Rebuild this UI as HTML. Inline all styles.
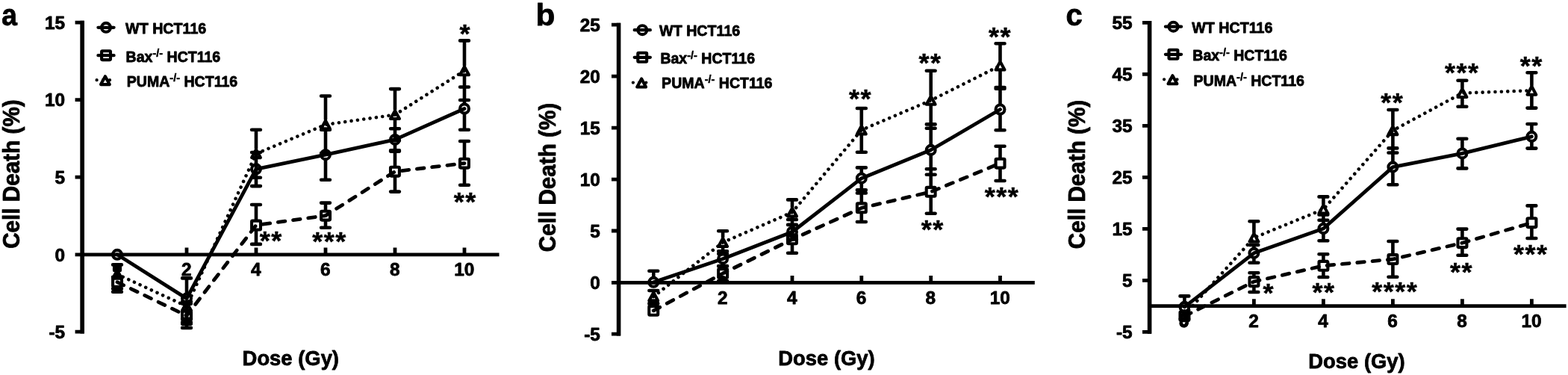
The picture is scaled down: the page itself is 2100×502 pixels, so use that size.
<!DOCTYPE html>
<html lang="en">
<head>
<meta charset="utf-8">
<title>Cell death versus radiation dose in WT, Bax-/- and PUMA-/- HCT116 cells</title>
<style>
html,body{margin:0;padding:0;background:#fff;}
body{width:2100px;height:502px;overflow:hidden;font-family:"Liberation Sans",Arial,sans-serif;}
svg{display:block;}
text{fill:#000;}
</style>
</head>
<body>
<svg width="2100" height="502" viewBox="0 0 2100 502" role="img" aria-label="Three line charts of cell death (%) versus dose (Gy)">
<rect width="2100" height="502" fill="#fff"/>
<g id="panel-a">
<path d="M110.2 27.8V446.6M100.6 30.2H110.2M100.6 133.7H110.2M100.6 237.2H110.2M100.6 340.8H110.2M100.6 444.2H110.2M100.6 340.8H668.5M250.0 340.8V331.4M343.0 340.8V331.4M436.0 340.8V331.4M529.0 340.8V331.4M622.0 340.8V331.4" fill="none" stroke="#000" stroke-width="4.8" stroke-linecap="butt"/>
<path d="M110.2 27.8V446.6" fill="none" stroke="#000" stroke-width="5.6" stroke-linecap="butt"/>
<g font-family="Liberation Sans, Arial, Helvetica, sans-serif" font-weight="700" stroke="#000" stroke-width="0.8" stroke-linejoin="round" font-size="24.4" text-anchor="end">
<text x="87.2" y="38.9">15</text>
<text x="87.2" y="142.4">10</text>
<text x="87.2" y="245.9">5</text>
<text x="87.2" y="349.5">0</text>
<text x="87.2" y="452.9">-5</text>
</g>
<g font-family="Liberation Sans, Arial, Helvetica, sans-serif" font-weight="700" stroke="#000" stroke-width="0.8" stroke-linejoin="round" font-size="24.4" text-anchor="middle">
<text x="249.7" y="369.4">2</text>
<text x="342.7" y="369.4">4</text>
<text x="435.7" y="369.4">6</text>
<text x="528.7" y="369.4">8</text>
<text x="621.7" y="369.4">10</text>
</g>
<path d="M250.0 392.6V372.4M244.1 372.4H255.9M250.0 406.6V426.8M244.1 426.8H255.9M343.0 219.3V204.0M337.1 204.0H348.9M343.0 233.3V249.1M337.1 249.1H348.9M436.0 200.2V173.7M430.1 173.7H441.9M436.0 214.2V240.7M430.1 240.7H441.9M529.0 179.9V172.3M523.1 172.3H534.9M529.0 193.9V201.3M523.1 201.3H534.9M622.0 138.5V116.5M616.1 116.5H627.9M622.0 152.5V173.8M616.1 173.8H627.9M157.0 360.2V354.4M151.1 354.4H162.9M151.1 371.2H162.9M244.1 404.0H255.9M250.0 417.0V431.5M244.1 431.5H255.9M343.0 198.7V173.7M337.1 173.7H348.9M343.0 212.7V237.7M337.1 237.7H348.9M436.0 159.8V128.5M430.1 128.5H441.9M436.0 173.8V205.1M430.1 205.1H441.9M529.0 146.6V119.1M523.1 119.1H534.9M529.0 160.6V188.1M523.1 188.1H534.9M622.0 87.7V54.4M616.1 54.4H627.9M622.0 101.7V134.0M616.1 134.0H627.9M151.1 370.7H162.9M157.0 384.7V390.7M151.1 390.7H162.9M250.0 415.6V406.6M244.1 406.6H255.9M250.0 429.6V438.9M244.1 438.9H255.9M343.0 294.5V274.0M337.1 274.0H348.9M343.0 308.5V326.9M337.1 326.9H348.9M436.0 281.6V271.6M430.1 271.6H441.9M436.0 295.6V304.8M430.1 304.8H441.9M529.0 222.6V202.6M523.1 202.6H534.9M529.0 236.6V256.6M523.1 256.6H534.9M622.0 211.6V189.0M616.1 189.0H627.9M622.0 225.6V247.8M616.1 247.8H627.9M151.1 386.6H162.9M244.1 433.6H255.9M153.2 357.5V362M160.8 357.5V362" fill="none" stroke="#000" stroke-width="4.6" stroke-linecap="round"/>
<polyline points="157.0,367.2 250.0,410.0 343.0,205.7 436.0,166.8 529.0,153.6 622.0,94.7" fill="none" stroke="#000" stroke-width="4.6" stroke-linecap="round" stroke-linejoin="round" stroke-dasharray="0.01 8.4"/>
<polyline points="157.0,377.7 250.0,422.6 343.0,301.5 436.0,288.6 529.0,229.6 622.0,218.6" fill="none" stroke="#000" stroke-width="4.8" stroke-linecap="round" stroke-linejoin="round" stroke-dasharray="9.6 10.8"/>
<polyline points="157.0,340.8 250.0,399.6 343.0,226.3 436.0,207.2 529.0,186.9 622.0,145.5" fill="none" stroke="#000" stroke-width="4.8" stroke-linecap="round" stroke-linejoin="round"/>
<path d="M157.0 361.8L162.9 372.6H151.1Z" fill="none" stroke="#000" stroke-width="4.1" stroke-linejoin="round"/>
<path d="M250.0 404.6L255.9 415.4H244.1Z" fill="none" stroke="#000" stroke-width="4.1" stroke-linejoin="round"/>
<path d="M343.0 200.2L348.9 211.1H337.1Z" fill="none" stroke="#000" stroke-width="4.1" stroke-linejoin="round"/>
<path d="M436.0 161.4L441.9 172.2H430.1Z" fill="none" stroke="#000" stroke-width="4.1" stroke-linejoin="round"/>
<path d="M529.0 148.2L535.0 159.0H523.0Z" fill="none" stroke="#000" stroke-width="4.1" stroke-linejoin="round"/>
<path d="M622.0 89.2L628.0 100.2H616.0Z" fill="none" stroke="#000" stroke-width="4.1" stroke-linejoin="round"/>
<rect x="151.1" y="371.8" width="11.9" height="11.9" rx="1" fill="none" stroke="#000" stroke-width="4.1" stroke-linejoin="round"/>
<rect x="244.1" y="416.7" width="11.9" height="11.9" rx="1" fill="none" stroke="#000" stroke-width="4.1" stroke-linejoin="round"/>
<rect x="337.1" y="295.6" width="11.9" height="11.9" rx="1" fill="none" stroke="#000" stroke-width="4.1" stroke-linejoin="round"/>
<rect x="430.1" y="282.7" width="11.9" height="11.9" rx="1" fill="none" stroke="#000" stroke-width="4.1" stroke-linejoin="round"/>
<rect x="523.0" y="223.7" width="11.9" height="11.9" rx="1" fill="none" stroke="#000" stroke-width="4.1" stroke-linejoin="round"/>
<rect x="616.0" y="212.7" width="11.9" height="11.9" rx="1" fill="none" stroke="#000" stroke-width="4.1" stroke-linejoin="round"/>
<circle cx="157.0" cy="340.8" r="5.95" fill="none" stroke="#000" stroke-width="4.1"/>
<circle cx="250.0" cy="399.6" r="5.95" fill="none" stroke="#000" stroke-width="4.1"/>
<circle cx="343.0" cy="226.3" r="5.95" fill="none" stroke="#000" stroke-width="4.1"/>
<circle cx="436.0" cy="207.2" r="5.95" fill="none" stroke="#000" stroke-width="4.1"/>
<circle cx="529.0" cy="186.9" r="5.95" fill="none" stroke="#000" stroke-width="4.1"/>
<circle cx="622.0" cy="145.5" r="5.95" fill="none" stroke="#000" stroke-width="4.1"/>
<g font-family="Liberation Sans, Arial, Helvetica, sans-serif" font-weight="700" stroke="#000" stroke-width="0.5" font-size="36.0" letter-spacing="1.49">
<text transform="translate(347.8 333.5) scale(1 0.95)">**</text>
<text transform="translate(418.3 334.5) scale(1 0.95)">***</text>
<text transform="translate(615.6 56.5) scale(1 0.95)">*</text>
<text transform="translate(607.7 281.5) scale(1 0.95)">**</text>
</g>
<path d="M131.4 36.8H152.6M131.4 74.2H152.6" stroke="#000" stroke-width="4.2" stroke-linecap="round" fill="none"/>
<path d="M129.6 107.2h0M138.0 107.2h0M147.0 107.2h0" stroke="#000" stroke-width="4.3" stroke-linecap="round" fill="none"/>
<circle cx="142.0" cy="36.8" r="5.95" fill="none" stroke="#000" stroke-width="4.1"/>
<rect x="136.1" y="68.2" width="11.9" height="11.9" rx="1" fill="none" stroke="#000" stroke-width="4.1" stroke-linejoin="round"/>
<path d="M140.9 102.2L146.8 113.1H135.0Z" fill="none" stroke="#000" stroke-width="4.1" stroke-linejoin="round"/>
<g font-family="Liberation Sans, Arial, Helvetica, sans-serif" font-weight="700" stroke="#000" stroke-width="0.8" stroke-linejoin="round" font-size="19.4">
<text x="168.1" y="45.2" textLength="108.2" lengthAdjust="spacingAndGlyphs">WT HCT116</text>
<text x="168.6" y="82.8" textLength="126.6" lengthAdjust="spacingAndGlyphs">Bax<tspan font-size="14.4" stroke-width="0.5" dy="-6.6">-/-</tspan><tspan dy="6.6"> HCT116</tspan></text>
<text x="169.8" y="115.7" textLength="148.4" lengthAdjust="spacingAndGlyphs">PUMA<tspan font-size="14.4" stroke-width="0.5" dy="-6.6">-/-</tspan><tspan dy="6.6"> HCT116</tspan></text>
</g>
<text font-family="Liberation Sans, Arial, Helvetica, sans-serif" font-weight="700" stroke="#000" stroke-width="0.8" stroke-linejoin="round" font-size="30.5" text-anchor="middle" transform="translate(25.6 233.1) rotate(-90)" textLength="199.5" lengthAdjust="spacingAndGlyphs">Cell Death (%)</text>
<text font-family="Liberation Sans, Arial, Helvetica, sans-serif" font-weight="700" stroke="#000" stroke-width="0.8" stroke-linejoin="round" font-size="28.2" text-anchor="middle" x="389.3" y="489.4" textLength="129.4" lengthAdjust="spacingAndGlyphs">Dose (Gy)</text>
<text font-family="Liberation Sans, Arial, Helvetica, sans-serif" font-weight="700" stroke="#000" stroke-width="0.8" stroke-linejoin="round" font-size="40" transform="translate(2.2 33.8) scale(0.93 1)">a</text>
</g>
<g id="panel-b">
<path d="M828.6 30.8V449.6M819.0 33.2H828.6M819.0 102.2H828.6M819.0 171.2H828.6M819.0 240.1H828.6M819.0 309.0H828.6M819.0 378.3H828.6M819.0 447.2H828.6M819.0 378.3H1385.8M968.1 378.3V368.9M1061.0 378.3V368.9M1153.8 378.3V368.9M1246.7 378.3V368.9M1339.5 378.3V368.9" fill="none" stroke="#000" stroke-width="4.8" stroke-linecap="butt"/>
<path d="M828.6 30.8V449.6" fill="none" stroke="#000" stroke-width="5.6" stroke-linecap="butt"/>
<g font-family="Liberation Sans, Arial, Helvetica, sans-serif" font-weight="700" stroke="#000" stroke-width="0.8" stroke-linejoin="round" font-size="24.4" text-anchor="end">
<text x="803.9" y="41.9">25</text>
<text x="803.9" y="110.9">20</text>
<text x="803.9" y="179.9">15</text>
<text x="803.9" y="248.8">10</text>
<text x="803.9" y="317.7">5</text>
<text x="803.9" y="387.0">0</text>
<text x="803.9" y="455.9">-5</text>
</g>
<g font-family="Liberation Sans, Arial, Helvetica, sans-serif" font-weight="700" stroke="#000" stroke-width="0.8" stroke-linejoin="round" font-size="24.4" text-anchor="middle">
<text x="967.9" y="406.9">2</text>
<text x="1060.7" y="406.9">4</text>
<text x="1153.5" y="406.9">6</text>
<text x="1246.4" y="406.9">8</text>
<text x="1339.2" y="406.9">10</text>
</g>
<path d="M875.3 370.8V362.8M869.4 362.8H881.2M968.1 339.4V336.4M962.2 336.4H974.0M968.1 353.4V356.4M962.2 356.4H974.0M1061.0 303.5V294.0M1055.1 294.0H1066.9M1061.0 317.5V320.5M1055.1 320.5H1066.9M1153.8 231.7V224.4M1147.9 224.4H1159.8M1153.8 245.7V254.2M1147.9 254.2H1159.8M1246.7 193.8V166.4M1240.8 166.4H1252.6M1246.7 207.8V233.8M1240.8 233.8H1252.6M1339.5 139.5V118.8M1333.6 118.8H1345.5M1339.5 153.5V174.2M1333.6 174.2H1345.5M875.3 390.0V389.0M869.4 389.0H881.2M875.3 404.0V406.0M869.4 406.0H881.2M968.1 317.5V309.2M962.2 309.2H974.0M968.1 331.5V339.8M962.2 339.8H974.0M1061.0 277.2V267.4M1055.1 267.4H1066.9M1061.0 291.2V301.0M1055.1 301.0H1066.9M1153.8 167.0V145.0M1147.9 145.0H1159.8M1153.8 181.0V203.7M1147.9 203.7H1159.8M1246.7 127.4V94.7M1240.8 94.7H1252.6M1246.7 141.4V171.7M1240.8 171.7H1252.6M1339.5 80.9V58.2M1333.6 58.2H1345.5M1339.5 94.9V117.1M1333.6 117.1H1345.5M875.3 408.8V406.8M869.4 406.8H881.2M968.1 359.0V356.0M962.2 356.0H974.0M968.1 373.0V376.0M962.2 376.0H974.0M1061.0 313.4V300.9M1055.1 300.9H1066.9M1061.0 327.4V338.8M1055.1 338.8H1066.9M1153.8 271.4V258.4M1147.9 258.4H1159.8M1153.8 285.4V297.0M1147.9 297.0H1159.8M1246.7 249.8V226.2M1240.8 226.2H1252.6M1246.7 263.8V285.8M1240.8 285.8H1252.6M1339.5 211.6V195.8M1333.6 195.8H1345.5M1339.5 225.6V242.0M1333.6 242.0H1345.5" fill="none" stroke="#000" stroke-width="4.6" stroke-linecap="round"/>
<polyline points="875.3,397.0 968.1,324.5 1061.0,284.2 1153.8,174.0 1246.7,134.4 1339.5,87.9" fill="none" stroke="#000" stroke-width="4.6" stroke-linecap="round" stroke-linejoin="round" stroke-dasharray="0.01 8.4"/>
<polyline points="875.3,415.8 968.1,366.0 1061.0,320.4 1153.8,278.4 1246.7,256.8 1339.5,218.6" fill="none" stroke="#000" stroke-width="4.8" stroke-linecap="round" stroke-linejoin="round" stroke-dasharray="9.6 10.8"/>
<polyline points="875.3,377.8 968.1,346.4 1061.0,310.5 1153.8,238.7 1246.7,200.8 1339.5,146.5" fill="none" stroke="#000" stroke-width="4.8" stroke-linecap="round" stroke-linejoin="round"/>
<path d="M875.3 391.6L881.2 402.4H869.3Z" fill="none" stroke="#000" stroke-width="4.1" stroke-linejoin="round"/>
<path d="M968.1 319.1L974.1 329.9H962.2Z" fill="none" stroke="#000" stroke-width="4.1" stroke-linejoin="round"/>
<path d="M1061.0 278.8L1067.0 289.6H1055.0Z" fill="none" stroke="#000" stroke-width="4.1" stroke-linejoin="round"/>
<path d="M1153.8 168.6L1159.8 179.4H1147.9Z" fill="none" stroke="#000" stroke-width="4.1" stroke-linejoin="round"/>
<path d="M1246.7 129.0L1252.6 139.8H1240.7Z" fill="none" stroke="#000" stroke-width="4.1" stroke-linejoin="round"/>
<path d="M1339.5 82.5L1345.5 93.4H1333.6Z" fill="none" stroke="#000" stroke-width="4.1" stroke-linejoin="round"/>
<rect x="869.3" y="409.9" width="11.9" height="11.9" rx="1" fill="none" stroke="#000" stroke-width="4.1" stroke-linejoin="round"/>
<rect x="962.2" y="360.1" width="11.9" height="11.9" rx="1" fill="none" stroke="#000" stroke-width="4.1" stroke-linejoin="round"/>
<rect x="1055.0" y="314.4" width="11.9" height="11.9" rx="1" fill="none" stroke="#000" stroke-width="4.1" stroke-linejoin="round"/>
<rect x="1147.9" y="272.4" width="11.9" height="11.9" rx="1" fill="none" stroke="#000" stroke-width="4.1" stroke-linejoin="round"/>
<rect x="1240.7" y="250.9" width="11.9" height="11.9" rx="1" fill="none" stroke="#000" stroke-width="4.1" stroke-linejoin="round"/>
<rect x="1333.6" y="212.7" width="11.9" height="11.9" rx="1" fill="none" stroke="#000" stroke-width="4.1" stroke-linejoin="round"/>
<circle cx="875.3" cy="377.8" r="5.95" fill="none" stroke="#000" stroke-width="4.1"/>
<circle cx="968.1" cy="346.4" r="5.95" fill="none" stroke="#000" stroke-width="4.1"/>
<circle cx="1061.0" cy="310.5" r="5.95" fill="none" stroke="#000" stroke-width="4.1"/>
<circle cx="1153.8" cy="238.7" r="5.95" fill="none" stroke="#000" stroke-width="4.1"/>
<circle cx="1246.7" cy="200.8" r="5.95" fill="none" stroke="#000" stroke-width="4.1"/>
<circle cx="1339.5" cy="146.5" r="5.95" fill="none" stroke="#000" stroke-width="4.1"/>
<g font-family="Liberation Sans, Arial, Helvetica, sans-serif" font-weight="700" stroke="#000" stroke-width="0.5" font-size="36.0" letter-spacing="1.49">
<text transform="translate(1137.1 144.3) scale(1 0.95)">**</text>
<text transform="translate(1230.4 96.0) scale(1 0.95)">**</text>
<text transform="translate(1324.0 61.2) scale(1 0.95)">**</text>
<text transform="translate(1233.7 318.9) scale(1 0.95)">**</text>
<text transform="translate(1318.8 274.9) scale(1 0.95)">***</text>
</g>
<path d="M849.7 40.2H870.9M849.7 76.8H870.9" stroke="#000" stroke-width="4.2" stroke-linecap="round" fill="none"/>
<path d="M847.9 110.6h0M856.3 110.6h0M865.3 110.6h0" stroke="#000" stroke-width="4.3" stroke-linecap="round" fill="none"/>
<circle cx="860.3" cy="40.2" r="5.95" fill="none" stroke="#000" stroke-width="4.1"/>
<rect x="854.3" y="70.8" width="11.9" height="11.9" rx="1" fill="none" stroke="#000" stroke-width="4.1" stroke-linejoin="round"/>
<path d="M859.2 105.5L865.1 116.5H853.2Z" fill="none" stroke="#000" stroke-width="4.1" stroke-linejoin="round"/>
<g font-family="Liberation Sans, Arial, Helvetica, sans-serif" font-weight="700" stroke="#000" stroke-width="0.8" stroke-linejoin="round" font-size="19.4">
<text x="883.1" y="47.7" textLength="108.2" lengthAdjust="spacingAndGlyphs">WT HCT116</text>
<text x="884.4" y="85.2" textLength="126.6" lengthAdjust="spacingAndGlyphs">Bax<tspan font-size="14.4" stroke-width="0.5" dy="-6.6">-/-</tspan><tspan dy="6.6"> HCT116</tspan></text>
<text x="886.1" y="117.7" textLength="148.4" lengthAdjust="spacingAndGlyphs">PUMA<tspan font-size="14.4" stroke-width="0.5" dy="-6.6">-/-</tspan><tspan dy="6.6"> HCT116</tspan></text>
</g>
<text font-family="Liberation Sans, Arial, Helvetica, sans-serif" font-weight="700" stroke="#000" stroke-width="0.8" stroke-linejoin="round" font-size="30.5" text-anchor="middle" transform="translate(743.5 237.5) rotate(-90)" textLength="199.5" lengthAdjust="spacingAndGlyphs">Cell Death (%)</text>
<text font-family="Liberation Sans, Arial, Helvetica, sans-serif" font-weight="700" stroke="#000" stroke-width="0.8" stroke-linejoin="round" font-size="28.2" text-anchor="middle" x="1107.0" y="489.4" textLength="129.4" lengthAdjust="spacingAndGlyphs">Dose (Gy)</text>
<text font-family="Liberation Sans, Arial, Helvetica, sans-serif" font-weight="700" stroke="#000" stroke-width="0.8" stroke-linejoin="round" font-size="40" transform="translate(717.6 34.0) scale(1.06 1)">b</text>
</g>
<g id="panel-c">
<path d="M1539.6 28.0V446.7M1530.0 30.4H1539.6M1530.0 99.3H1539.6M1530.0 168.3H1539.6M1530.0 237.3H1539.6M1530.0 306.3H1539.6M1530.0 375.4H1539.6M1530.0 444.3H1539.6M1539.6 409.7H2097.6M1679.4 409.7V400.3M1772.4 409.7V400.3M1865.4 409.7V400.3M1958.4 409.7V400.3M2051.4 409.7V400.3" fill="none" stroke="#000" stroke-width="4.8" stroke-linecap="butt"/>
<path d="M1539.6 28.0V446.7" fill="none" stroke="#000" stroke-width="5.6" stroke-linecap="butt"/>
<g font-family="Liberation Sans, Arial, Helvetica, sans-serif" font-weight="700" stroke="#000" stroke-width="0.8" stroke-linejoin="round" font-size="24.4" text-anchor="end">
<text x="1516.7" y="39.1">55</text>
<text x="1516.7" y="108.0">45</text>
<text x="1516.7" y="177.0">35</text>
<text x="1516.7" y="246.0">25</text>
<text x="1516.7" y="315.0">15</text>
<text x="1516.7" y="384.1">5</text>
<text x="1516.7" y="453.0">-5</text>
</g>
<g font-family="Liberation Sans, Arial, Helvetica, sans-serif" font-weight="700" stroke="#000" stroke-width="0.8" stroke-linejoin="round" font-size="24.4" text-anchor="middle">
<text x="1586.1" y="438.3">0</text>
<text x="1679.1" y="438.3">2</text>
<text x="1772.1" y="438.3">4</text>
<text x="1865.1" y="438.3">6</text>
<text x="1958.1" y="438.3">8</text>
<text x="2051.1" y="438.3">10</text>
</g>
<path d="M1586.4 403.8V396.4M1580.5 396.4H1592.3M1679.4 331.8V328.0M1673.5 328.0H1685.3M1679.4 345.8V351.8M1673.5 351.8H1685.3M1772.4 299.0V287.5M1766.5 287.5H1778.3M1772.4 313.0V322.2M1766.5 322.2H1778.3M1865.4 216.6V198.4M1859.5 198.4H1871.3M1865.4 230.6V247.2M1859.5 247.2H1871.3M1958.4 198.4V185.8M1952.5 185.8H1964.3M1958.4 212.4V225.4M1952.5 225.4H1964.3M2051.4 175.8V166.0M2045.5 166.0H2057.3M2051.4 189.8V198.6M2045.5 198.6H2057.3M1679.4 311.2V296.2M1673.5 296.2H1685.3M1772.4 273.2V263.4M1766.5 263.4H1778.3M1772.4 287.2V294.8M1766.5 294.8H1778.3M1865.4 167.7V147.0M1859.5 147.0H1871.3M1865.4 181.7V204.5M1859.5 204.5H1871.3M1958.4 117.6V107.8M1952.5 107.8H1964.3M1958.4 131.6V142.7M1952.5 142.7H1964.3M2051.4 114.2V97.3M2045.5 97.3H2057.3M2051.4 128.2V144.6M2045.5 144.6H2057.3M1679.4 370.0V365.2M1673.5 365.2H1685.3M1679.4 384.0V391.0M1673.5 391.0H1685.3M1772.4 348.8V340.2M1766.5 340.2H1778.3M1772.4 362.8V371.0M1766.5 371.0H1778.3M1865.4 340.0V323.0M1859.5 323.0H1871.3M1865.4 354.0V370.8M1859.5 370.8H1871.3M1958.4 318.2V306.6M1952.5 306.6H1964.3M1958.4 332.2V341.8M1952.5 341.8H1964.3M2051.4 291.2V275.4M2045.5 275.4H2057.3M2051.4 305.2V319.0M2045.5 319.0H2057.3M1581.6 432.6a3.9 3.7 0 0 0 7.8 0" fill="none" stroke="#000" stroke-width="4.6" stroke-linecap="round"/>
<polyline points="1586.4,421.5 1679.4,318.2 1772.4,280.2 1865.4,174.7 1958.4,124.6 2051.4,121.2" fill="none" stroke="#000" stroke-width="4.6" stroke-linecap="round" stroke-linejoin="round" stroke-dasharray="0.01 8.4"/>
<polyline points="1586.4,423.2 1679.4,377.0 1772.4,355.8 1865.4,347.0 1958.4,325.2 2051.4,298.2" fill="none" stroke="#000" stroke-width="4.8" stroke-linecap="round" stroke-linejoin="round" stroke-dasharray="9.6 10.8"/>
<polyline points="1586.4,410.8 1679.4,338.8 1772.4,306.0 1865.4,223.6 1958.4,205.4 2051.4,182.8" fill="none" stroke="#000" stroke-width="4.8" stroke-linecap="round" stroke-linejoin="round"/>
<path d="M1586.4 416.1L1592.4 426.9H1580.5Z" fill="none" stroke="#000" stroke-width="4.1" stroke-linejoin="round"/>
<path d="M1679.4 312.8L1685.4 323.6H1673.5Z" fill="none" stroke="#000" stroke-width="4.1" stroke-linejoin="round"/>
<path d="M1772.4 274.8L1778.4 285.6H1766.5Z" fill="none" stroke="#000" stroke-width="4.1" stroke-linejoin="round"/>
<path d="M1865.4 169.2L1871.4 180.1H1859.5Z" fill="none" stroke="#000" stroke-width="4.1" stroke-linejoin="round"/>
<path d="M1958.4 119.1L1964.4 130.0H1952.5Z" fill="none" stroke="#000" stroke-width="4.1" stroke-linejoin="round"/>
<path d="M2051.4 115.8L2057.3 126.7H2045.5Z" fill="none" stroke="#000" stroke-width="4.1" stroke-linejoin="round"/>
<rect x="1580.5" y="417.2" width="11.9" height="11.9" rx="1" fill="none" stroke="#000" stroke-width="4.1" stroke-linejoin="round"/>
<rect x="1673.5" y="371.1" width="11.9" height="11.9" rx="1" fill="none" stroke="#000" stroke-width="4.1" stroke-linejoin="round"/>
<rect x="1766.5" y="349.9" width="11.9" height="11.9" rx="1" fill="none" stroke="#000" stroke-width="4.1" stroke-linejoin="round"/>
<rect x="1859.5" y="341.1" width="11.9" height="11.9" rx="1" fill="none" stroke="#000" stroke-width="4.1" stroke-linejoin="round"/>
<rect x="1952.5" y="319.2" width="11.9" height="11.9" rx="1" fill="none" stroke="#000" stroke-width="4.1" stroke-linejoin="round"/>
<rect x="2045.5" y="292.2" width="11.9" height="11.9" rx="1" fill="none" stroke="#000" stroke-width="4.1" stroke-linejoin="round"/>
<circle cx="1586.4" cy="410.8" r="5.95" fill="none" stroke="#000" stroke-width="4.1"/>
<circle cx="1679.4" cy="338.8" r="5.95" fill="none" stroke="#000" stroke-width="4.1"/>
<circle cx="1772.4" cy="306.0" r="5.95" fill="none" stroke="#000" stroke-width="4.1"/>
<circle cx="1865.4" cy="223.6" r="5.95" fill="none" stroke="#000" stroke-width="4.1"/>
<circle cx="1958.4" cy="205.4" r="5.95" fill="none" stroke="#000" stroke-width="4.1"/>
<circle cx="2051.4" cy="182.8" r="5.95" fill="none" stroke="#000" stroke-width="4.1"/>
<g font-family="Liberation Sans, Arial, Helvetica, sans-serif" font-weight="700" stroke="#000" stroke-width="0.5" font-size="36.0" letter-spacing="1.49">
<text transform="translate(1691.4 404.2) scale(1 0.95)">*</text>
<text transform="translate(1757.6 403.0) scale(1 0.95)">**</text>
<text transform="translate(1837.3 402.2) scale(1 0.95)">****</text>
<text transform="translate(1849.2 149.2) scale(1 0.95)">**</text>
<text transform="translate(1934.9 109.4) scale(1 0.95)">***</text>
<text transform="translate(2035.8 99.9) scale(1 0.95)">**</text>
<text transform="translate(1942.0 375.6) scale(1 0.95)">**</text>
<text transform="translate(2027.1 352.0) scale(1 0.95)">***</text>
</g>
<path d="M1560.9 35.7H1582.1M1560.9 72.8H1582.1" stroke="#000" stroke-width="4.2" stroke-linecap="round" fill="none"/>
<path d="M1559.1 106.3h0M1567.5 106.3h0M1576.5 106.3h0" stroke="#000" stroke-width="4.3" stroke-linecap="round" fill="none"/>
<circle cx="1571.5" cy="35.7" r="5.95" fill="none" stroke="#000" stroke-width="4.1"/>
<rect x="1565.5" y="66.8" width="11.9" height="11.9" rx="1" fill="none" stroke="#000" stroke-width="4.1" stroke-linejoin="round"/>
<path d="M1570.4 101.2L1576.4 112.2H1564.5Z" fill="none" stroke="#000" stroke-width="4.1" stroke-linejoin="round"/>
<g font-family="Liberation Sans, Arial, Helvetica, sans-serif" font-weight="700" stroke="#000" stroke-width="0.8" stroke-linejoin="round" font-size="19.4">
<text x="1596.2" y="43.6" textLength="108.2" lengthAdjust="spacingAndGlyphs">WT HCT116</text>
<text x="1597.3" y="81.1" textLength="126.6" lengthAdjust="spacingAndGlyphs">Bax<tspan font-size="14.4" stroke-width="0.5" dy="-6.6">-/-</tspan><tspan dy="6.6"> HCT116</tspan></text>
<text x="1598.5" y="114.9" textLength="148.4" lengthAdjust="spacingAndGlyphs">PUMA<tspan font-size="14.4" stroke-width="0.5" dy="-6.6">-/-</tspan><tspan dy="6.6"> HCT116</tspan></text>
</g>
<text font-family="Liberation Sans, Arial, Helvetica, sans-serif" font-weight="700" stroke="#000" stroke-width="0.8" stroke-linejoin="round" font-size="30.5" text-anchor="middle" transform="translate(1452.7 233.5) rotate(-90)" textLength="199.5" lengthAdjust="spacingAndGlyphs">Cell Death (%)</text>
<text font-family="Liberation Sans, Arial, Helvetica, sans-serif" font-weight="700" stroke="#000" stroke-width="0.8" stroke-linejoin="round" font-size="28.2" text-anchor="middle" x="1817.0" y="492.5" textLength="129.4" lengthAdjust="spacingAndGlyphs">Dose (Gy)</text>
<text font-family="Liberation Sans, Arial, Helvetica, sans-serif" font-weight="700" stroke="#000" stroke-width="0.8" stroke-linejoin="round" font-size="40" transform="translate(1427.6 34.0) scale(1.0 1)">c</text>
</g>
</svg>
</body>
</html>
